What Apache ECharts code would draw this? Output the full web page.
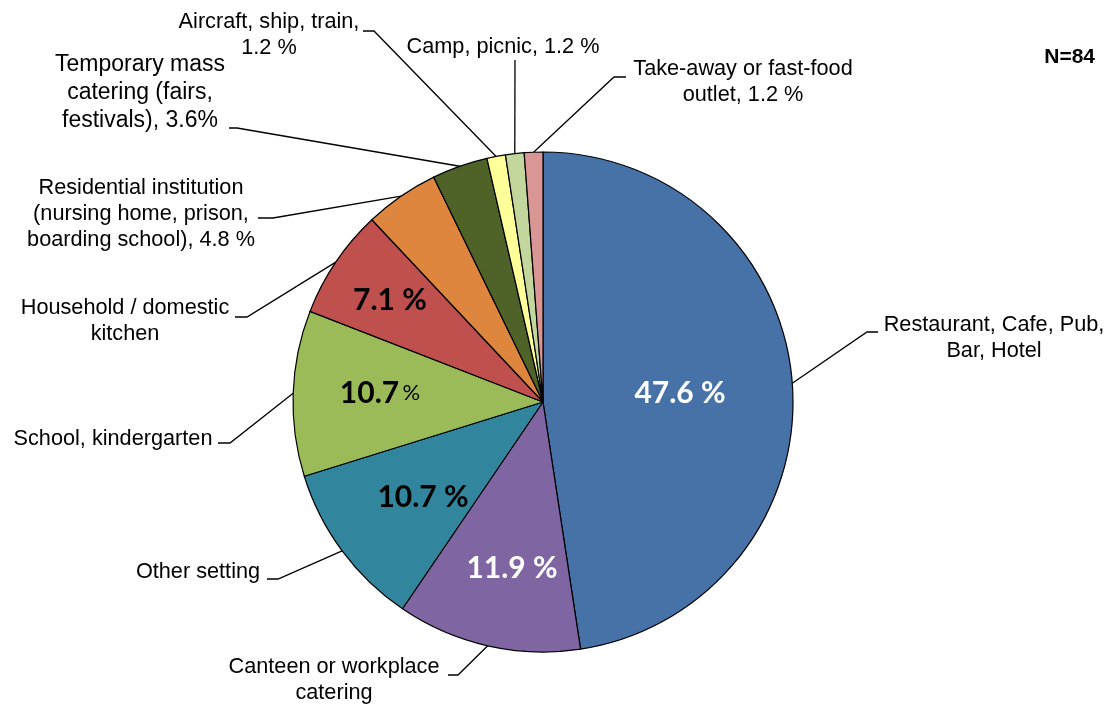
<!DOCTYPE html>
<html><head><meta charset="utf-8">
<script src="https://cdn.jsdelivr.net/npm/echarts@6/dist/echarts.min.js"></script>
<style>html,body{margin:0;padding:0;background:#fff}#c{width:1110px;height:706px}</style>
</head><body><div id="c"></div>
<script>
// ---- data ----
const categories = ['Restaurant, Cafe, Pub, Bar, Hotel', 'Canteen or workplace catering', 'Other setting',
  'School, kindergarten', 'Household / domestic kitchen', 'Residential institution (nursing home, prison, boarding school)',
  'Temporary mass catering (fairs, festivals)', 'Aircraft, ship, train', 'Camp, picnic', 'Take-away or fast-food outlet'];
const percents = [47.6, 11.9, 10.7, 10.7, 7.1, 4.8, 3.6, 1.2, 1.2, 1.2];
const outerLabels = ['Restaurant, Cafe, Pub,\nBar, Hotel', 'Canteen or workplace\ncatering', 'Other setting',
  'School, kindergarten', 'Household / domestic\nkitchen', 'Residential institution\n(nursing home, prison,\nboarding school), 4.8 %',
  'Temporary mass\ncatering (fairs,\nfestivals), 3.6%', 'Aircraft, ship, train,\n1.2 %', 'Camp, picnic, 1.2 %',
  'Take-away or fast-food\noutlet, 1.2 %'];
const innerLabels = ['{w|47.6 %}', '{w|11.9 %}', '{b|10.7 %}', '{b|10.7} {s|%}', '{b|7.1 %}', '', '', '', '', ''];
const sampleNote = 'N=84';

// ---- styles / layout ----
const colors = ['#4672A8', '#7F65A1', '#31869E', '#9BBB59', '#C0504D', '#DE853E', '#4F6228', '#FFFF99', '#C3D69B', '#D99694'];
const innerPos = [[680, 393], [512, 568], [423, 497], [380, 393], [390, 300]];
const outerPos = [
  {t: [994, 338], e: [867, 332], d: [878, 332]},
  {t: [334, 680], e: [458, 675], d: [448, 675]},
  {t: [198, 572], e: [278, 579], d: [267, 579]},
  {t: [113, 439], e: [230, 443], d: [218, 443]},
  {t: [125, 321], e: [247, 317], d: [235, 317]},
  {t: [141, 214], e: [273, 218], d: [258, 218]},
  {t: [140, 93], e: [237, 128], d: [229, 128]},
  {t: [269, 35], e: [374, 31], d: [363, 31]},
  {t: [503, 47], e: [515, 60], d: [515, 60]},
  {t: [743, 82], e: [614, 77], d: [626, 77]}
];
const CENTER = [543, 402], R = 250;
const labelFont = 'Liberation Sans, Arial, sans-serif';
const pctFont = 'Lato, Open Sans, sans-serif';

const chart = echarts.init(document.getElementById('c'), null, {renderer: 'canvas'});

const sliceData = categories.map((c, i) => ({
  name: c, value: percents[i],
  itemStyle: {color: colors[i]},
  label: {show: innerLabels[i] !== '', formatter: innerLabels[i]}
}));
const ghostData = categories.map((c, i) => ({
  name: c, value: percents[i],
  label: i === 6 ? {fontSize: 23, lineHeight: 28} : {}
}));

chart.setOption({
  animation: false,
  backgroundColor: '#fff',
  title: {text: sampleNote, right: 10, top: 42,
    textStyle: {fontFamily: labelFont, fontWeight: 'bold', fontSize: 21, color: '#000'}},
  series: [
    {
      type: 'pie', z: 1, silent: true, center: CENTER, radius: R, startAngle: 90, clockwise: true,
      avoidLabelOverlap: false,
      itemStyle: {color: 'rgba(0,0,0,0)', borderWidth: 0},
      label: {show: true, position: 'outside', formatter: p => outerLabels[p.dataIndex],
        fontFamily: labelFont, fontSize: 21.7, lineHeight: 26, color: '#000', align: 'center'},
      labelLine: {show: true, length: 20, length2: 10, lineStyle: {color: '#000', width: 1.3}},
      labelLayout: function (params) {
        const L = outerPos[params.dataIndex];
        const p0 = params.labelLinePoints ? params.labelLinePoints[0] : L.e;
        return {x: L.t[0], y: L.t[1], align: 'center', verticalAlign: 'middle',
          labelLinePoints: [p0, L.e, L.d]};
      },
      data: ghostData
    },
    {
      type: 'pie', z: 2, silent: true, center: CENTER, radius: R, startAngle: 90, clockwise: true,
      avoidLabelOverlap: false,
      itemStyle: {borderColor: '#000', borderWidth: 1.2},
      label: {position: 'inside',
        rich: {
          w: {fontFamily: pctFont, fontWeight: 'bold', fontSize: 30, color: '#fff'},
          b: {fontFamily: pctFont, fontWeight: 'bold', fontSize: 30, color: '#000'},
          s: {fontFamily: pctFont, fontWeight: 'normal', fontSize: 22, color: '#000'}
        }},
      labelLine: {show: false},
      labelLayout: function (params) {
        const p = innerPos[params.dataIndex];
        if (!p) return {};
        return {x: p[0], y: p[1], align: 'center', verticalAlign: 'middle'};
      },
      data: sliceData
    }
  ]
});
</script>
</body></html>
